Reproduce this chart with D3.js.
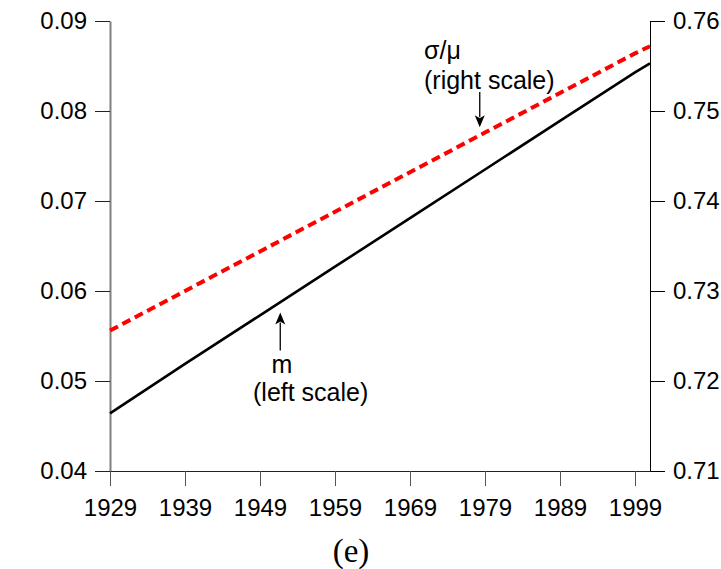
<!DOCTYPE html>
<html>
<head>
<meta charset="utf-8">
<script src="https://cdn.jsdelivr.net/npm/d3@7/dist/d3.min.js"></script>
<style>
  html, body { margin: 0; padding: 0; background: #fff; }
  svg { display: block; }
  text { font-family: "Liberation Sans", Arial, sans-serif; fill: #000; }
</style>
</head>
<body>
<svg id="chart" width="721" height="569"></svg>
<script>
// ---- data ----
const years      = [1929, 1939, 1949, 1959, 1969, 1979, 1989, 1999, 2001];
const mValues    = [0.0464, 0.0519, 0.0573, 0.0627, 0.0681, 0.0735, 0.0789, 0.0843, 0.0853];
const sigmaMu    = [0.7256, 0.7300, 0.7344, 0.7388, 0.7432, 0.7476, 0.7520, 0.7564, 0.7572];
const xTicks     = [1929, 1939, 1949, 1959, 1969, 1979, 1989, 1999];
const leftTicks  = [0.04, 0.05, 0.06, 0.07, 0.08, 0.09];
const rightTicks = [0.71, 0.72, 0.73, 0.74, 0.75, 0.76];

const svg = d3.select("#chart");
const x  = d3.scaleLinear().domain([1929, 2001]).range([110, 650]);
const yL = d3.scaleLinear().domain([0.04, 0.09]).range([471, 21]);
const yR = d3.scaleLinear().domain([0.71, 0.76]).range([471, 21]);

const fs = 24;
const fam = '"Liberation Sans", Arial, sans-serif';

// axes
const gL = svg.append("g").attr("transform", `translate(${x(1929)},0)`)
  .call(d3.axisLeft(yL).tickValues(leftTicks).tickFormat(d3.format(".2f"))
    .tickSize(15).tickPadding(8).tickSizeOuter(0));
const gR = svg.append("g").attr("transform", `translate(${x(2001)},0)`)
  .call(d3.axisRight(yR).tickValues(rightTicks).tickFormat(d3.format(".2f"))
    .tickSize(15).tickPadding(8).tickSizeOuter(0));
const gB = svg.append("g").attr("transform", `translate(0,${yL(0.04)})`)
  .call(d3.axisBottom(x).tickValues(xTicks).tickFormat(d3.format("d"))
    .tickSize(15).tickPadding(13).tickSizeOuter(0));

[gL, gR, gB].forEach(g => {
  g.selectAll("text").attr("font-size", fs).attr("font-family", fam).attr("fill", "#000");
});
gL.select(".domain").attr("stroke", "#808080").attr("stroke-width", 2);
gL.selectAll(".tick line").attr("stroke", "#222");
gB.select(".domain").attr("stroke", "#222");
gB.selectAll(".tick line").attr("stroke", "#555");
gR.select(".domain").attr("stroke", "#000");
gR.selectAll(".tick line").attr("stroke", "#000");

// lines
const lineM = d3.line().x((d, i) => x(years[i])).y(d => yL(d));
const lineS = d3.line().x((d, i) => x(years[i])).y(d => yR(d));

svg.append("path").datum(sigmaMu).attr("d", lineS)
  .attr("fill", "none").attr("stroke", "#ff0000").attr("stroke-width", 4)
  .attr("stroke-dasharray", "9,5");
svg.append("path").datum(mValues).attr("d", lineM)
  .attr("fill", "none").attr("stroke", "#000").attr("stroke-width", 2.6);

// annotations
function arrow(x0, yTail, yTip) {
  const dir = yTip > yTail ? 1 : -1;
  const headLen = 12, half = 5;
  svg.append("line").attr("x1", x0).attr("x2", x0)
    .attr("y1", yTail).attr("y2", yTip - dir * (headLen - 2))
    .attr("stroke", "#000").attr("stroke-width", 1.3);
  svg.append("path")
    .attr("d", `M${x0},${yTip} L${x0 - half},${yTip - dir * headLen} L${x0},${yTip - dir * (headLen - 3)} L${x0 + half},${yTip - dir * headLen} Z`)
    .attr("fill", "#000");
}
// sigma/mu arrow (right scale units)
arrow(x(1978.3), yR(0.7521), yR(0.7482));
// m arrow (left scale units)
arrow(x(1951.7), yL(0.0534), yL(0.0576));

svg.append("text").attr("x", 424).attr("y", 59).attr("font-size", 25).text("σ/μ");
svg.append("text").attr("x", 424).attr("y", 89).attr("font-size", 25).text("(right scale)");

svg.append("text").attr("x", 282).attr("y", 373).attr("font-size", 25).attr("text-anchor", "middle").text("m");
svg.append("text").attr("x", 253).attr("y", 401).attr("font-size", 25).text("(left scale)");

svg.append("text").attr("x", 351).attr("y", 562).attr("font-size", 33)
  .attr("text-anchor", "middle")
  .style("font-family", '"Liberation Serif", "Times New Roman", serif')
  .text("(e)");
</script>
</body>
</html>
